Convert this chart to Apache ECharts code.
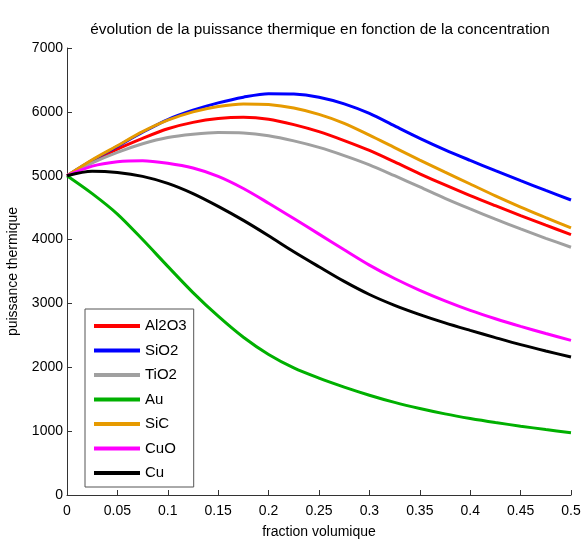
<!DOCTYPE html>
<html>
<head>
<meta charset="utf-8">
<script src="https://cdn.jsdelivr.net/npm/echarts@6/dist/echarts.min.js"></script>
<style>html,body{margin:0;padding:0;background:#fff;}#c{width:582px;height:541px;}</style>
</head>
<body>
<div id="c"></div>
<script>
var fractions = [0, 0.025, 0.05, 0.075, 0.1, 0.125, 0.15, 0.175, 0.2, 0.225, 0.25, 0.275, 0.3, 0.325, 0.35, 0.375, 0.4, 0.425, 0.45, 0.475, 0.5];
var al2o3 = [5000, 5225, 5417, 5585, 5735, 5835, 5895, 5915, 5885, 5800, 5690, 5550, 5395, 5215, 5030, 4855, 4688, 4530, 4375, 4225, 4078];
var sio2  = [5000, 5240, 5460, 5680, 5880, 6025, 6140, 6230, 6285, 6280, 6230, 6125, 5975, 5780, 5585, 5405, 5240, 5080, 4922, 4770, 4620];
var tio2  = [5000, 5200, 5365, 5500, 5599, 5650, 5677, 5670, 5625, 5545, 5443, 5315, 5170, 5000, 4825, 4645, 4479, 4320, 4167, 4020, 3880];
var au    = [5000, 4720, 4400, 4000, 3580, 3170, 2800, 2470, 2200, 1990, 1830, 1690, 1563, 1450, 1354, 1270, 1198, 1135, 1078, 1025, 975];
var sic   = [5000, 5250, 5470, 5690, 5870, 6000, 6085, 6125, 6115, 6060, 5960, 5820, 5635, 5440, 5245, 5055, 4870, 4685, 4510, 4345, 4183];
var cuo   = [5000, 5150, 5219, 5235, 5195, 5120, 4990, 4800, 4570, 4330, 4085, 3840, 3600, 3390, 3205, 3040, 2891, 2760, 2641, 2530, 2422];
var cu    = [5000, 5070, 5050, 4990, 4880, 4720, 4520, 4300, 4060, 3810, 3575, 3345, 3140, 2970, 2825, 2695, 2578, 2465, 2355, 2255, 2161];
var yTickLabels = ['0', '1000', '2000', '3000', '4000', '5000', '6000', '7000'];
var seriesNames = ['Al2O3', 'SiO2', 'TiO2', 'Au', 'SiC', 'CuO', 'Cu'];
var seriesColors = ['#ff0000', '#0000ff', '#a0a0a0', '#00b000', '#e69a00', '#ff00ff', '#000000'];
var seriesValues = [al2o3, sio2, tio2, au, sic, cuo, cu];

function pairs(vals) { return fractions.map(function (x, i) { return [x, vals[i]]; }); }

var chart = echarts.init(document.getElementById('c'), null, {renderer: 'canvas'});
var font = 'Liberation Sans, Arial, sans-serif';
chart.setOption({
  animation: false,
  backgroundColor: '#ffffff',
  textStyle: {fontFamily: font},
  title: {
    text: 'évolution de la puissance thermique en fonction de la concentration',
    left: 315, top: 17, textAlign: 'center',
    textStyle: {fontFamily: font, fontSize: 15.4, fontWeight: 'normal', color: '#000'}
  },
  grid: {left: 67, right: 11, top: 48, bottom: 46, containLabel: false, outerBoundsMode: 'none'},
  legend: {
    orient: 'vertical', left: 85, top: 309,
    data: seriesNames,
    icon: 'rect', itemWidth: 46, itemHeight: 4, itemGap: 8.5,
    padding: [9, 7, 6, 9],
    borderColor: '#555', borderWidth: 1, backgroundColor: '#fff',
    textStyle: {fontFamily: font, fontSize: 15, color: '#000', lineHeight: 16}
  },
  xAxis: {
    type: 'value', min: 0, max: 0.5, interval: 0.05,
    name: 'fraction volumique', nameLocation: 'middle', nameGap: 30,
    nameTextStyle: {fontFamily: font, fontSize: 14, color: '#000'},
    axisLine: {show: true, lineStyle: {color: '#333', width: 1}},
    axisTick: {show: true, inside: true, length: 5, lineStyle: {color: '#333'}},
    axisLabel: {fontFamily: font, fontSize: 14, color: '#000', margin: 9,
      formatter: function (v) { return String(+v.toFixed(2)); }},
    splitLine: {show: false}
  },
  yAxis: {
    type: 'value', min: 0, max: 7000, interval: 1000,
    name: 'puissance thermique', nameLocation: 'middle', nameGap: 47,
    nameTextStyle: {fontFamily: font, fontSize: 14, color: '#000'},
    axisLine: {show: true, lineStyle: {color: '#333', width: 1}},
    axisTick: {show: true, inside: true, length: 5, lineStyle: {color: '#333'}},
    axisLabel: {fontFamily: font, fontSize: 14, color: '#000', margin: 4,
      formatter: function (v) { return yTickLabels[Math.round(v / 1000)]; }},
    splitLine: {show: false}
  },
  series: seriesNames.map(function (n, i) {
    return {
      name: n, type: 'line', data: pairs(seriesValues[i]),
      smooth: 0.3, showSymbol: false, symbol: 'none',
      lineStyle: {color: seriesColors[i], width: 3},
      itemStyle: {color: seriesColors[i]}
    };
  })
});
</script>
</body>
</html>
